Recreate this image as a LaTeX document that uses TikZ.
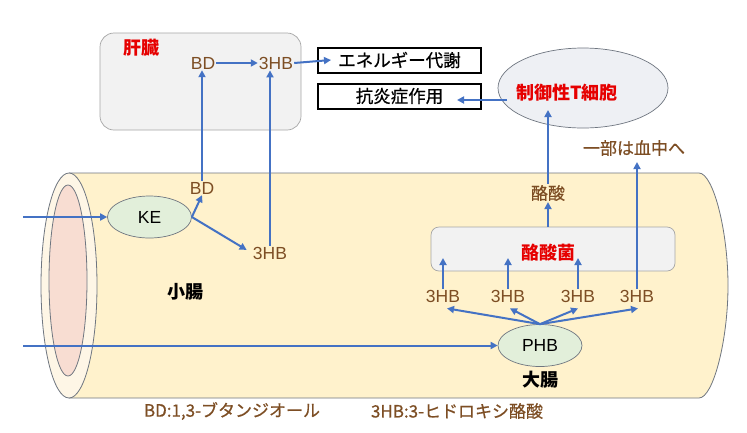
\documentclass[tikz,border=0pt]{standalone}
\usepackage{fontspec}
\setmainfont{Liberation Sans}
\newfontfamily\cjk[FakeBold=0.6]{Noto Sans CJK JP}
\newfontfamily\cjkb{Noto Sans CJK JP}
\usetikzlibrary{shapes.geometric,arrows.meta}
\definecolor{arrblue}{HTML}{4472C4}
\definecolor{brn}{RGB}{125,78,36}
\definecolor{tubefill}{HTML}{FFF2CC}
\definecolor{ringfill}{HTML}{FEF6E6}
\definecolor{pinkfill}{HTML}{F8DDD2}
\definecolor{boxgray}{HTML}{F2F2F2}
\definecolor{ellgreen}{HTML}{E2EFDA}
\definecolor{tregfill}{HTML}{EEF0F4}
\definecolor{jred}{RGB}{230,0,0}
\definecolor{edgegray}{HTML}{6F7680}
\tikzset{
  arr/.style={draw=arrblue, line width=2pt, -{Triangle[length=7pt,width=7pt]}},
  lbl/.style={text=brn, font=\fontsize{17.5}{19}\selectfont, inner sep=1pt},
  jbrn/.style={text=brn, font=\cjk\fontsize{17}{19}\selectfont, inner sep=1pt},
  jred/.style={text=jred, font=\cjkb\bfseries\fontsize{18}{19}\selectfont, inner sep=1pt},
  jblk/.style={text=black, font=\cjkb\bfseries\fontsize{18}{19}\selectfont, inner sep=1pt},
  outbox/.style={draw=black, line width=2pt, minimum width=163pt, minimum height=25pt, font=\cjk\fontsize{17.5}{19}\selectfont, inner sep=0pt},
  graybox/.style={draw=gray!70, fill=boxgray, line width=0.7pt},
  greenell/.style={ellipse, draw=edgegray, fill=ellgreen, line width=0.7pt, minimum width=84pt, minimum height=42pt, inner sep=0pt, font=\fontsize{17.5}{19}\selectfont}
}
\begin{document}
\begin{tikzpicture}[x=1pt,y=-1pt]
\useasboundingbox (0,0) rectangle (747,432);
\fill[white] (0,0) rectangle (747,432);
% tube
\path[fill=tubefill, draw=edgegray, line width=0.8pt] (69,173) -- (699,173)
  .. controls (713,173) and (728,230) .. (728,285.5)
  .. controls (728,341) and (713,398) .. (699,398) -- (69,398);
\draw[edgegray, line width=0.8pt, fill=ringfill] (69,285.5) ellipse [x radius=28, y radius=112.5];
\draw[edgegray, line width=0.8pt, fill=pinkfill] (68,280.5) ellipse [x radius=19, y radius=95.5];
% boxes
\node[graybox, rounded corners=14pt, minimum width=201pt, minimum height=97pt] (liver) at (200.5,81.5) {};
\node[graybox, rounded corners=8pt, minimum width=244pt, minimum height=44pt] (bact) at (553,249) {};
\node[outbox] (energy) at (399.5,60) {エネルギー代謝};
\node[outbox] (anti) at (399.5,96) {抗炎症作用};
\node[ellipse, draw=edgegray, fill=tregfill, line width=0.7pt, minimum width=170pt, minimum height=80pt, inner sep=0pt] (treg) at (583,88) {};
\node[greenell] (ke) at (149.5,217) {KE};
\node[greenell] (phb) at (540,345.5) {PHB};
% labels
\node[jred] (liverlbl) at (141,48) {肝臓};
\node[lbl] (bdL) at (203,63) {BD};
\node[lbl] (hbL) at (276,63) {3HB};
\node[jred] (treglbl) at (567,93) {制御性T細胞};
\node[jbrn] (butA) at (548,193) {酪酸};
\node[jbrn] (blood) at (634,148) {一部は血中へ};
\node[jred] (bactlbl) at (548,253) {酪酸菌};
\node[lbl] (hb1) at (443,296) {3HB};
\node[lbl] (hb2) at (508,296) {3HB};
\node[lbl] (hb3) at (578,296) {3HB};
\node[lbl] (hb4) at (637,296) {3HB};
\node[jblk] (large) at (540,380) {大腸};
\node[lbl] (bdS) at (202,188) {BD};
\node[lbl] (hbS) at (270,253) {3HB};
\node[jblk] (small) at (185,292) {小腸};
\node[jbrn] (note1) at (232,411) {BD:1,3-ブタンジオール};
\node[jbrn] (note2) at (457,411) {3HB:3-ヒドロキシ酪酸};
% coordinates
\coordinate (inKE) at (23,217);
\coordinate (inPHB) at (23,345.5);
\coordinate (tregL) at (507,100);
\coordinate (antiTip) at (457,100);
\coordinate (tregTip) at (548,110);
\coordinate (bactTip) at (0,258);
% arrows
\draw[arr] (inKE) -- (ke.west);
\draw[arr] (inPHB) -- (phb.west);
\draw[arr] (ke.east) -- (bdS.south);
\draw[arr, shorten >=6pt] (ke.east) -- (hbS.west);
\draw[arr] (bdS.north) -- (bdS.north |- bdL.south);
\draw[arr] (hbS.north) -- (hbS.north |- hbL.south);
\draw[arr] (bdL.east) -- (hbL.west);
\draw[arr] (hbL.east) -- ([xshift=14pt]energy.west);
\draw[arr] (tregL) -- (antiTip);
\draw[arr] (butA.north) -- (tregTip);
\draw[arr] (butA.south |- bact.north) -- (butA.south);
\foreach \h in {hb1,hb2,hb3}{
  \draw[arr] (\h.north) -- (\h.north |- bactTip);
}
\draw[arr, shorten >=5pt] (hb4.north) -- (hb4.north |- blood.south);
\foreach \h/\dx in {hb1/4,hb2/2,hb3/0,hb4/1}{
  \draw[arr] (phb.north) -- ([xshift=\dx pt, yshift=-5pt]\h.south);
}
\end{tikzpicture}
\end{document}
